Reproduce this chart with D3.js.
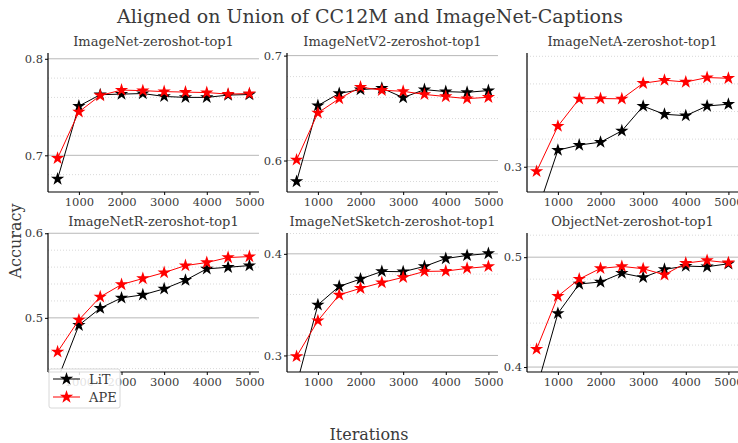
<!DOCTYPE html>
<html>
<head>
<meta charset="utf-8">
<script src="https://cdn.jsdelivr.net/npm/d3@7"></script>
<style>
  body { margin: 0; background: #fff; }
  svg text { font-family: "DejaVu Serif", serif; }
</style>
</head>
<body>
<svg id="chart"></svg>
<script>
const width = 738;
const height = 443;

const iterations = [500, 1000, 1500, 2000, 2500, 3000, 3500, 4000, 4500, 5000];
const xTicks = [1000, 2000, 3000, 4000, 5000];

const panelTitles = [
  'ImageNet-zeroshot-top1', 'ImageNetV2-zeroshot-top1', 'ImageNetA-zeroshot-top1',
  'ImageNetR-zeroshot-top1', 'ImageNetSketch-zeroshot-top1', 'ObjectNet-zeroshot-top1'
];

const litValues = [
  [0.6755, 0.751, 0.7628, 0.7634, 0.764, 0.761, 0.760, 0.760, 0.7624, 0.763],
  [0.580, 0.6524, 0.664, 0.6676, 0.669, 0.660, 0.6676, 0.6657, 0.665, 0.6667],
  [0.266, 0.312, 0.3157, 0.3178, 0.326, 0.3439, 0.338, 0.337, 0.344, 0.3453],
  [0.427, 0.4913, 0.5114, 0.5236, 0.5272, 0.5343, 0.5445, 0.5579, 0.5598, 0.5618],
  [0.2713, 0.3498, 0.368, 0.3752, 0.3827, 0.3824, 0.3876, 0.3954, 0.3984, 0.4003],
  [0.3804, 0.4488, 0.4756, 0.4774, 0.4855, 0.4816, 0.4889, 0.4919, 0.4913, 0.494]
];

const apeValues = [
  [0.697, 0.745, 0.762, 0.7676, 0.767, 0.766, 0.7655, 0.765, 0.7634, 0.764],
  [0.6006, 0.6454, 0.659, 0.670, 0.667, 0.666, 0.663, 0.661, 0.659, 0.6603],
  [0.2966, 0.3294, 0.3492, 0.3494, 0.3492, 0.3605, 0.3627, 0.3614, 0.3646, 0.3641],
  [0.4598, 0.4976, 0.5248, 0.5394, 0.5465, 0.5535, 0.5618, 0.5654, 0.5713, 0.5724],
  [0.299, 0.3342, 0.3596, 0.3661, 0.3717, 0.3769, 0.3827, 0.383, 0.3857, 0.3876],
  [0.4163, 0.4645, 0.4801, 0.4898, 0.4916, 0.4895, 0.484, 0.4946, 0.497, 0.4949]
];

const yDomains = [
  [0.662, 0.806], [0.570, 0.7025], [0.2817, 0.3824],
  [0.436, 0.6003], [0.2837, 0.4205], [0.3955, 0.522]
];

const seriesNames = ['LiT', 'APE'];
const seriesColors = ['#000000', '#ff0000'];

const svg = d3.select('#chart').attr('width', width).attr('height', height);

const colLeft = [48, 287, 527];
const rowTop = [53, 233];
const panelW = 211;
const panelH = 139;
const textColor = '#3a3a3a';

const star = d3.symbol().type(d3.symbolStar).size(55);

svg.append('text')
   .attr('x', 370).attr('y', 23)
   .attr('text-anchor', 'middle')
   .attr('font-size', 19)
   .attr('fill', textColor)
   .text('Aligned on Union of CC12M and ImageNet-Captions');

svg.append('text')
   .attr('x', 369).attr('y', 440)
   .attr('text-anchor', 'middle')
   .attr('font-size', 16)
   .attr('fill', textColor)
   .text('Iterations');

svg.append('text')
   .attr('transform', 'translate(21, 241) rotate(-90)')
   .attr('text-anchor', 'middle')
   .attr('font-size', 16)
   .attr('fill', textColor)
   .text('Accuracy');

panelTitles.forEach((title, i) => {
  const x0 = colLeft[i % 3];
  const y0 = rowTop[Math.floor(i / 3)];
  const g = svg.append('g').attr('transform', `translate(${x0},${y0})`);

  const xScale = d3.scaleLinear().domain([275, 5225]).range([0, panelW]);
  const yScale = d3.scaleLinear().domain(yDomains[i]).range([panelH, 0]);

  const minorTicks = d3.range(Math.ceil(yDomains[i][0] / 0.02), Math.floor(yDomains[i][1] / 0.02) + 1)
                       .map(k => +(k * 0.02).toFixed(2))
                       .filter(v => Math.abs(v * 10 - Math.round(v * 10)) > 1e-6);
  const majorTicks = d3.range(Math.ceil(yDomains[i][0] * 10 - 1e-6), Math.floor(yDomains[i][1] * 10 + 1e-6) + 1)
                       .map(k => +(k / 10).toFixed(1));

  // minor grid
  g.append('g').selectAll('line')
   .data(minorTicks).enter().append('line')
   .attr('x1', 0).attr('x2', panelW)
   .attr('y1', d => yScale(d)).attr('y2', d => yScale(d))
   .attr('stroke', '#cfcfcf').attr('stroke-width', 0.8)
   .attr('stroke-dasharray', '1,2');

  // major grid
  g.append('g').selectAll('line')
   .data(majorTicks).enter().append('line')
   .attr('x1', 0).attr('x2', panelW)
   .attr('y1', d => yScale(d)).attr('y2', d => yScale(d))
   .attr('stroke', '#b8b8b8').attr('stroke-width', 1);

  const clipId = 'clip' + i;
  g.append('clipPath').attr('id', clipId)
   .append('rect').attr('x', 0).attr('y', 0).attr('width', panelW).attr('height', panelH);

  const plot = g.append('g').attr('clip-path', `url(#${clipId})`);
  const line = d3.line().x((d, k) => xScale(iterations[k])).y(d => yScale(d));

  [litValues[i], apeValues[i]].forEach((vals, s) => {
    plot.append('path')
        .datum(vals)
        .attr('d', line)
        .attr('fill', 'none')
        .attr('stroke', seriesColors[s])
        .attr('stroke-width', 1);
    plot.selectAll('.m' + s)
        .data(vals).enter().append('path')
        .attr('class', 'm' + s)
        .attr('d', star)
        .attr('transform', (d, k) => `translate(${xScale(iterations[k])},${yScale(d)})`)
        .attr('fill', seriesColors[s]);
  });

  const xAxis = d3.axisBottom(xScale).tickValues(xTicks).tickSize(3).tickPadding(3).tickFormat(d3.format('d'));
  const yAxis = d3.axisLeft(yScale).tickValues(majorTicks).tickSize(3).tickPadding(2).tickFormat(d3.format('.1f'));

  const gx = g.append('g').attr('transform', `translate(0,${panelH})`).call(xAxis);
  const gy = g.append('g').call(yAxis);
  [gx, gy].forEach(ax => {
    ax.attr('font-family', null);
    ax.select('.domain').attr('stroke', '#000').attr('stroke-width', 1.2);
    ax.selectAll('.tick line').attr('stroke', '#000');
    ax.selectAll('.tick text').attr('font-size', 11.5).attr('fill', textColor);
  });
  gx.select('.domain').attr('d', `M0,0H${panelW}`);
  gy.select('.domain').attr('d', `M0,0V${panelH}`);

  g.append('text')
   .attr('x', panelW / 2).attr('y', -7)
   .attr('text-anchor', 'middle')
   .attr('font-size', 13)
   .attr('fill', textColor)
   .text(title);
});

// legend
const legend = svg.append('g').attr('transform', 'translate(49,369)');
legend.append('rect')
      .attr('width', 71).attr('height', 39)
      .attr('rx', 2)
      .attr('fill', '#fff').attr('fill-opacity', 0.85)
      .attr('stroke', '#d8d8d8');
seriesNames.forEach((name, s) => {
  const ly = 10 + s * 18;
  legend.append('line')
        .attr('x1', 4).attr('x2', 31).attr('y1', ly).attr('y2', ly)
        .attr('stroke', seriesColors[s]).attr('stroke-width', 1);
  legend.append('path')
        .attr('d', star)
        .attr('transform', `translate(17.5,${ly})`)
        .attr('fill', seriesColors[s]);
  legend.append('text')
        .attr('x', 40).attr('y', ly + 4.5)
        .attr('font-size', 13)
        .attr('fill', textColor)
        .text(name);
});
</script>
</body>
</html>
